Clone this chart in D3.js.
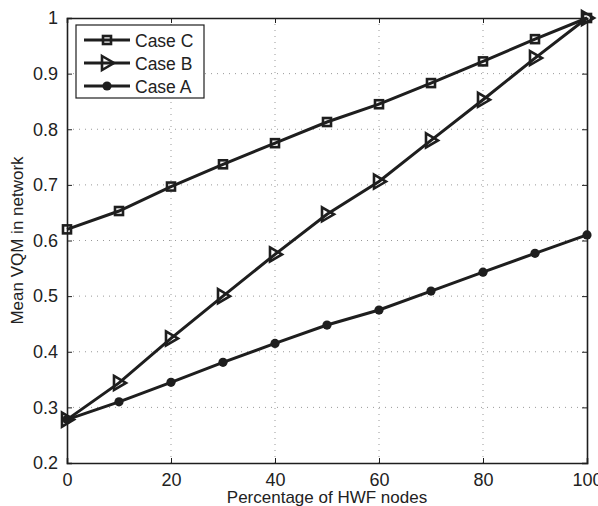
<!DOCTYPE html>
<html><head><meta charset="utf-8">
<script src="https://cdn.jsdelivr.net/npm/d3@7"></script>
<style>body{margin:0;background:#fff}svg{display:block}text{font-family:"Liberation Sans",Arial,Helvetica,sans-serif;fill:#222}</style>
</head><body>
<script>
const xValues = [0,10,20,30,40,50,60,70,80,90,100];
const caseC = [0.62,0.653,0.697,0.737,0.775,0.813,0.845,0.883,0.922,0.962,1.0];
const caseB = [0.278,0.344,0.424,0.50,0.575,0.647,0.706,0.78,0.853,0.928,1.0];
const caseA = [0.278,0.31,0.345,0.381,0.415,0.448,0.475,0.509,0.543,0.577,0.61];
const seriesNames = ["Case C","Case B","Case A"];
const xTicks = [0,20,40,60,80,100];
const yTicks = [0.2,0.3,0.4,0.5,0.6,0.7,0.8,0.9,1.0];
const xLabel = "Percentage of HWF nodes";
const yLabel = "Mean VQM in network";

const W=598,H=506;
const m={l:67,r:11,t:18,b:43};
const svg=d3.select("body").append("svg").attr("width",W).attr("height",H);
const x=d3.scaleLinear().domain([0,100]).range([m.l,W-m.r]);
const y=d3.scaleLinear().domain([0.2,1.0]).range([H-m.b,m.t]);
const col="#1e1e1e";

// grid
const g=svg.append("g");
g.selectAll(".gx").data(xTicks.slice(1,-1)).enter().append("line")
 .attr("x1",d=>x(d)).attr("x2",d=>x(d)).attr("y1",y(0.2)).attr("y2",y(1))
 .attr("stroke","#999").attr("stroke-width",1).attr("stroke-dasharray","1,5");
g.selectAll(".gy").data(yTicks.slice(1,-1)).enter().append("line")
 .attr("y1",d=>y(d)).attr("y2",d=>y(d)).attr("x1",x(0)).attr("x2",x(100))
 .attr("stroke","#999").attr("stroke-width",1).attr("stroke-dasharray","1,5");

// axes
const fmtY=d=>d===1?"1":d3.format(".1f")(d);
const ax=svg.append("g").attr("transform",`translate(0,${y(0.2)})`)
 .call(d3.axisBottom(x).tickValues(xTicks).tickSize(-5).tickPadding(10));
const axT=svg.append("g").attr("transform",`translate(0,${y(1)})`)
 .call(d3.axisTop(x).tickValues(xTicks).tickSize(-5).tickFormat(""));
const ay=svg.append("g").attr("transform",`translate(${x(0)},0)`)
 .call(d3.axisLeft(y).tickValues(yTicks).tickSize(-5).tickPadding(9).tickFormat(fmtY));
const ayR=svg.append("g").attr("transform",`translate(${x(100)},0)`)
 .call(d3.axisRight(y).tickValues(yTicks).tickSize(-5).tickFormat(""));
[ax,axT,ay,ayR].forEach(a=>{
  a.select(".domain").attr("stroke",col).attr("stroke-width",1.6);
  a.selectAll(".tick line").attr("stroke",col);
  a.selectAll("text").style("font-size","18px").style("fill","#222");
});

// series
const datasets=[caseC,caseB,caseA];
const line=d3.line().x((d,i)=>x(xValues[i])).y(d=>y(d));
datasets.forEach(ds=>{
  svg.append("path").datum(ds).attr("d",line).attr("fill","none")
   .attr("stroke",col).attr("stroke-width",3);
});
function marker(sel,type,cx,cy){
  if(type===0){
    sel.append("rect").attr("x",cx-4).attr("y",cy-4).attr("width",8).attr("height",8)
     .attr("fill","none").attr("stroke",col).attr("stroke-width",2.6);
  } else if(type===1){
    sel.append("path").attr("d",`M${cx-5},${cy-7}L${cx+7},${cy}L${cx-5},${cy+7}Z`)
     .attr("fill","none").attr("stroke",col).attr("stroke-width",2.6);
  } else {
    sel.append("circle").attr("cx",cx).attr("cy",cy).attr("r",4.6).attr("fill",col);
  }
}
datasets.forEach((ds,k)=>{
  const gg=svg.append("g");
  ds.forEach((v,i)=>marker(gg,k,x(xValues[i]),y(v)));
});

// legend
const lg=svg.append("g");
lg.append("rect").attr("x",76).attr("y",25).attr("width",128).attr("height",73)
 .attr("fill","#fff").attr("stroke",col).attr("stroke-width",1.2);
seriesNames.forEach((n,k)=>{
  const yy=40+k*23;
  lg.append("line").attr("x1",84).attr("x2",130).attr("y1",yy).attr("y2",yy)
   .attr("stroke",col).attr("stroke-width",3);
  marker(lg,k,107,yy);
  lg.append("text").attr("x",135).attr("y",yy+6.5).style("font-size","17.5px").text(n);
});

// labels
svg.append("text").attr("x",(x(0)+x(100))/2).attr("y",503).attr("text-anchor","middle")
 .style("font-size","17px").text(xLabel);
svg.append("text").attr("transform",`translate(23,${(y(0.2)+y(1))/2}) rotate(-90)`)
 .attr("text-anchor","middle").style("font-size","17px").text(yLabel);
</script>
</body></html>
